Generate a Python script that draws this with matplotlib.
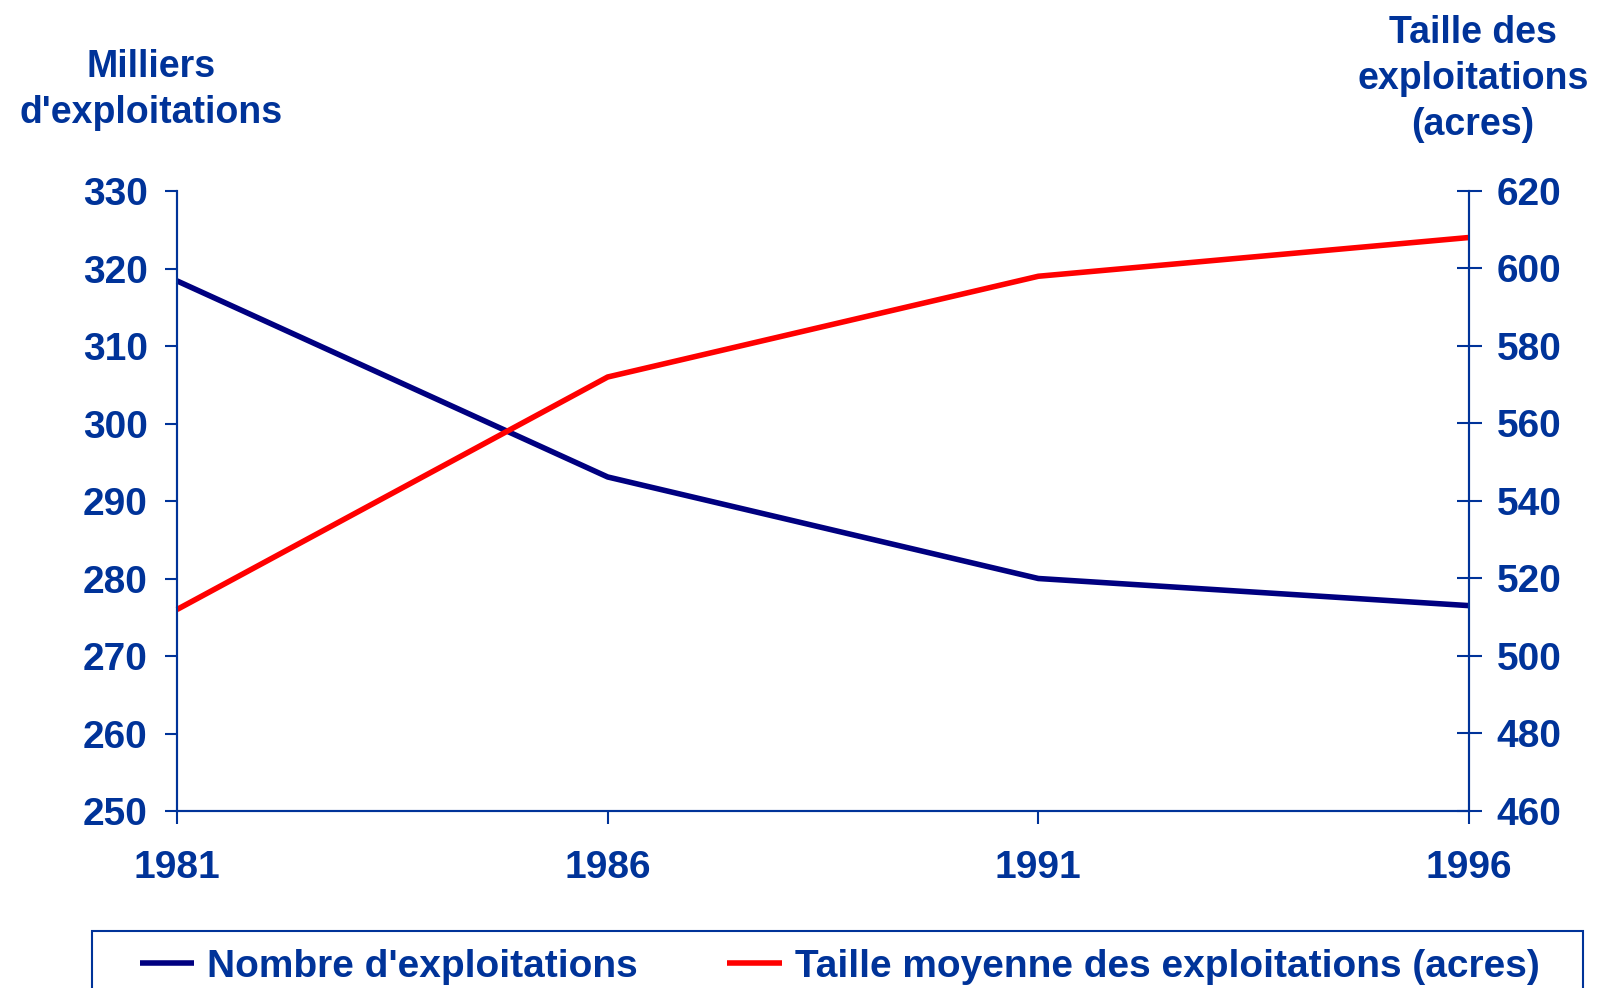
import matplotlib.pyplot as plt
from matplotlib.patches import Rectangle

# données (recensement)
years = [1981, 1986, 1991, 1996]
nb_exploitations = [318.4, 293.1, 280.0, 276.5]   # milliers
taille_moyenne = [512, 572, 598, 608]             # acres

left_ticks = [250, 260, 270, 280, 290, 300, 310, 320, 330]
right_ticks = [460, 480, 500, 520, 540, 560, 580, 600, 620]

txt_col = '#003399'
plt.rcParams['font.family'] = ['Liberation Sans', 'DejaVu Sans']
plt.rcParams['font.weight'] = 'bold'

fig = plt.figure(figsize=(15.98, 9.88), dpi=100)
ax = fig.add_axes([177/1598, 1-811/988, (1469-177)/1598, (811-191)/988])
ax2 = ax.twinx()

l1, = ax.plot(years, nb_exploitations, color='#000080', lw=4, solid_capstyle='butt')
l2, = ax2.plot(years, taille_moyenne, color='#ff0000', lw=4, solid_capstyle='butt')

ax.set_xlim(1981, 1996)
ax.set_ylim(250, 330)
ax2.set_ylim(460, 620)
ax.set_xticks(years)
ax.set_yticks(left_ticks)
ax2.set_yticks(right_ticks)

for a in (ax, ax2):
    for s in a.spines.values():
        s.set_color(txt_col)
        s.set_linewidth(1.5)
    a.spines['top'].set_visible(False)

l1.set_clip_on(False)
l2.set_clip_on(False)

ax.tick_params(axis='y', direction='out', length=9, width=1.5, color=txt_col,
               labelsize=28, labelcolor=txt_col, pad=12)
ax.tick_params(axis='x', direction='out', length=9, width=1.5, color=txt_col,
               labelsize=28, labelcolor=txt_col, pad=19)
ax2.tick_params(axis='y', direction='inout', length=18, width=1.5, color=txt_col,
                labelsize=28, labelcolor=txt_col, pad=11)

fig.text(151/1598, 1-90/988, "Milliers\nd'exploitations", ha='center', va='center',
         fontsize=27, color=txt_col, fontweight='bold', linespacing=1.37)
fig.text(1473/1598, 1-79/988, "Taille des\nexploitations\n(acres)", ha='center', va='center',
         fontsize=27, color=txt_col, fontweight='bold', linespacing=1.37)

# cadre de la légende (déborde en bas de l'image)
fig.patches.append(Rectangle((92/1598, 1-1010/988), (1583-92)/1598, (1010-931)/988,
                             transform=fig.transFigure, fill=False,
                             edgecolor=txt_col, lw=1.5))

leg = fig.legend([l1, l2], ["Nombre d'exploitations", "Taille moyenne des exploitations (acres)"],
                 loc='center left', bbox_to_anchor=(140/1598, 1-967/988),
                 ncol=2, frameon=False, fontsize=28, borderaxespad=0, borderpad=0,
                 handlelength=1.4, handletextpad=0.33, columnspacing=2.3,
                 labelcolor=txt_col)

fig.savefig('out.png', dpi=100)
